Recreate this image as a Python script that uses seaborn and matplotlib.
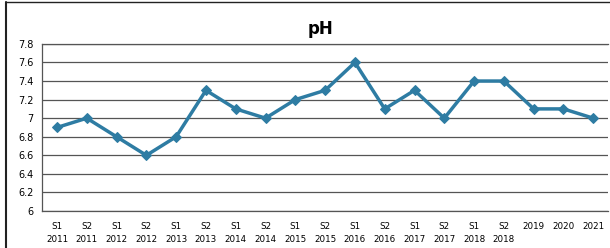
import pandas as pd
import numpy as np
import matplotlib.pyplot as plt
import seaborn as sns
from matplotlib.lines import Line2D

# ---------------------------------------------------
# Data
# ---------------------------------------------------
periods = ["S1\n2011", "S2\n2011", "S1\n2012", "S2\n2012", "S1\n2013",
           "S2\n2013", "S1\n2014", "S2\n2014", "S1\n2015", "S2\n2015",
           "S1\n2016", "S2\n2016", "S1\n2017", "S2\n2017", "S1\n2018",
           "S2\n2018", "2019", "2020", "2021"]
ph_values = [6.9, 7.0, 6.8, 6.6, 6.8, 7.3, 7.1, 7.0, 7.2, 7.3,
             7.6, 7.1, 7.3, 7.0, 7.4, 7.4, 7.1, 7.1, 7.0]
y_ticks = [6, 6.2, 6.4, 6.6, 6.8, 7, 7.2, 7.4, 7.6, 7.8]
y_labels = ["6", "6.2", "6.4", "6.6", "6.8", "7", "7.2", "7.4", "7.6", "7.8"]

df = pd.DataFrame({"period": periods, "pH": ph_values})
df["pos"] = np.arange(len(df))

# ---------------------------------------------------
# Plot
# ---------------------------------------------------
sns.set_style("white")
plt.rcParams["font.family"] = ["DejaVu Sans"]
plt.rcParams["text.color"] = "black"
plt.rcParams["xtick.color"] = "black"
plt.rcParams["ytick.color"] = "black"

fig = plt.figure(figsize=(6.1, 2.48), dpi=100)
ax = fig.add_axes([0.069, 0.149, 0.928, 0.674])

sns.lineplot(data=df, x="pos", y="pH", ax=ax, color="#2e7ca3",
             linewidth=2.5, marker="D", markersize=5,
             markeredgecolor="#2e7ca3")

ax.set_xlim(-0.5, len(df) - 0.5)
ax.set_ylim(6, 7.8)
ax.set_yticks(y_ticks)
ax.set_yticklabels(y_labels)
ax.set_xticks(df["pos"])
ax.set_xticklabels(periods, linespacing=1.5)
ax.tick_params(axis="y", labelsize=7, length=0, pad=6)
ax.tick_params(axis="x", labelsize=6.3, length=0, pad=8)
ax.set_xlabel("")
ax.set_ylabel("")

# gridlines
ax.grid(axis="y", color="#555555", linewidth=0.9)
ax.grid(axis="x", visible=False)
for side in ["left", "bottom", "top"]:
    ax.spines[side].set_color("#555555")
    ax.spines[side].set_linewidth(0.9)
ax.spines["right"].set_visible(False)

# title
fig.text(0.525, 0.885, "pH", ha="center", va="center",
         fontsize=12, fontweight="bold", color="black")

# outer chart frame (left and top only, cropped on the right)
fig.add_artist(Line2D([0.01, 0.01], [0.0, 0.99], transform=fig.transFigure,
                      color="#222222", linewidth=1.5))
fig.add_artist(Line2D([0.01, 1.0], [0.99, 0.99], transform=fig.transFigure,
                      color="#222222", linewidth=1.0))

fig.savefig("out.png", dpi=100)
